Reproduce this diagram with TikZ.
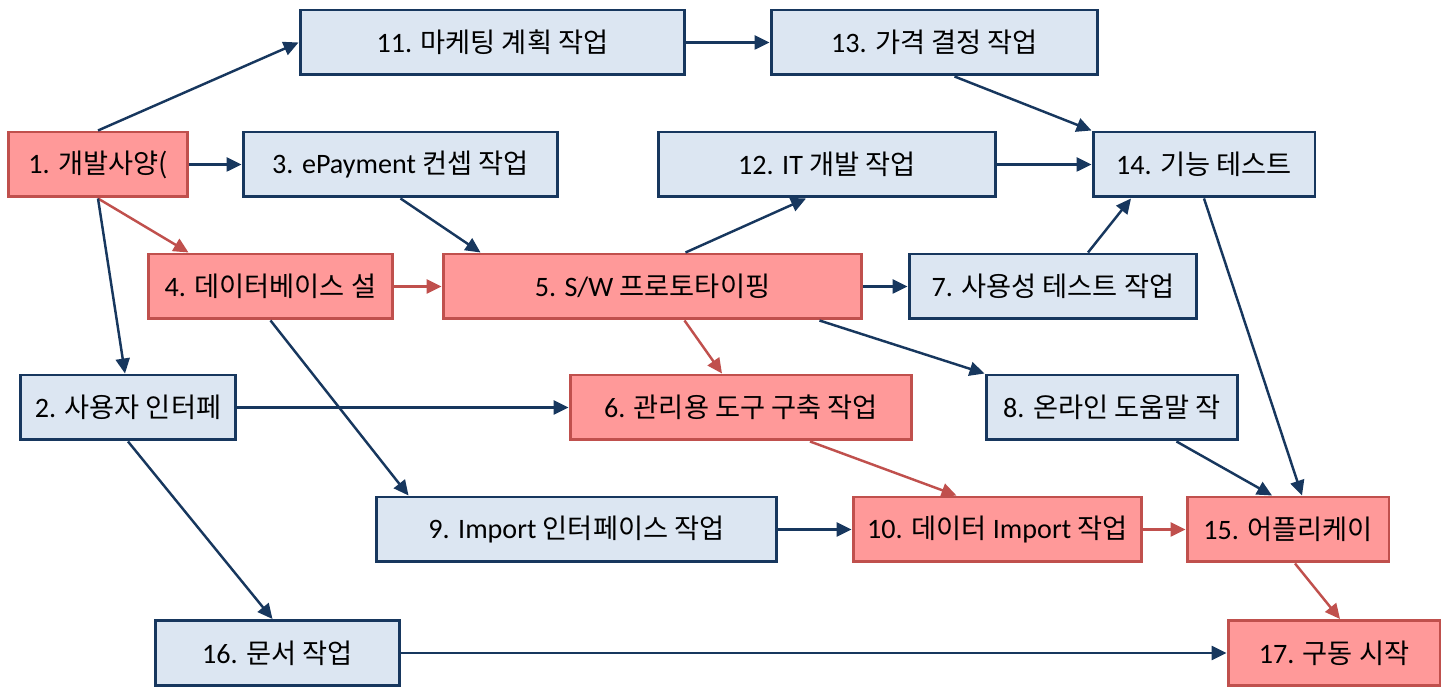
\documentclass[tikz,border=0pt]{standalone}
\usepackage{fontspec}
\setmainfont{Carlito}
\newfontfamily\kr[Scale=0.97]{Noto Sans CJK KR}
\usetikzlibrary{arrows.meta}
\definecolor{bfill}{HTML}{DCE6F2}
\definecolor{bline}{HTML}{17375E}
\definecolor{rfill}{HTML}{FF9999}
\definecolor{rline}{HTML}{C0504D}
\begin{document}
\begin{tikzpicture}[x=0.02cm,y=-0.02cm,
  box/.style={draw, line width=1.7pt, minimum height=1.3cm, inner sep=0pt, font=\fontsize{16}{19}\selectfont, text=black},
  bbox/.style={box, draw=bline, fill=bfill},
  rbox/.style={box, draw=rline, fill=rfill},
  barr/.style={draw=bline, line width=1.4pt, -{Triangle[length=0.3cm,width=0.28cm]}},
  rarr/.style={barr, draw=rline}]
\useasboundingbox (0,0) rectangle (1447,688);
% nodes
\node[bbox, minimum width=7.70cm] (n11) at (492.5,42.5) {11. {\kr 마케팅 계획 작업}};
\node[bbox, minimum width=6.54cm] (n13) at (934.5,42.5) {13. {\kr 가격 결정 작업}};
\node[rbox, minimum width=3.60cm] (n1) at (98,164.5) {1. {\kr 개발사양(}};
\node[bbox, minimum width=6.30cm] (n3) at (400.5,164.5) {3. ePayment {\kr 컨셉 작업}};
\node[bbox, minimum width=6.76cm] (n12) at (827,164.5) {12. IT {\kr 개발 작업}};
\node[bbox, minimum width=4.44cm] (n14) at (1204,164.5) {14. {\kr 기능 테스트}};
\node[rbox, minimum width=4.90cm] (n4) at (270.5,286.5) {4. {\kr 데이터베이스 설}};
\node[rbox, minimum width=8.38cm] (n5) at (652.5,286.5) {5. S/W {\kr 프로토타이핑}};
\node[bbox, minimum width=5.76cm] (n7) at (1053,286.5) {7. {\kr 사용성 테스트 작업}};
\node[bbox, minimum width=4.32cm] (n2) at (128,407.5) {2. {\kr 사용자 인터페}};
\node[rbox, minimum width=6.84cm] (n6) at (741,407.5) {6. {\kr 관리용 도구 구축 작업}};
\node[bbox, minimum width=5.04cm] (n8) at (1112,407.5) {8. {\kr 온라인 도움말 작}};
\node[bbox, minimum width=8.02cm] (n9) at (576.5,529.5) {9. Import {\kr 인터페이스 작업}};
\node[rbox, minimum width=5.78cm] (n10) at (997.5,529.5) {10. {\kr 데이터} Import {\kr 작업}};
\node[rbox, minimum width=4.04cm] (n15) at (1288,529.5) {15. {\kr 어플리케이}};
\node[bbox, minimum width=4.90cm] (n16) at (277.5,653) {16. {\kr 문서 작업}};
\node[rbox, minimum width=4.24cm] (n17) at (1334,653) {17. {\kr 구동 시작}};
% connectors
\draw[barr] (n1.north) -- (n11.west);
\draw[barr] (n1.east) -- (n3.west);
\draw[rarr] (n1.south) -- ([xshift=0.84cm]n4.north west);
\draw[barr] (n1.south) -- ([xshift=-0.06cm]n2.north);
\draw[barr] (n11.east) -- (n13.west);
\draw[barr] ([xshift=0.4cm]n13.south) -- (n14.north west);
\draw[barr] (n3.south) -- ([xshift=0.78cm]n5.north west);
\draw[rarr] (n4.east) -- (n5.west);
\draw[barr] (n4.south) -- ([xshift=0.68cm]n9.north west);
\draw[barr] ([xshift=0.66cm]n5.north) -- ([xshift=-0.42cm]n12.south);
\draw[barr] (n12.east) -- (n14.west);
\draw[barr] (n5.east) -- (n7.west);
\draw[barr] ([xshift=0.7cm]n7.north) -- ([xshift=-1.46cm]n14.south);
\draw[rarr] ([xshift=0.64cm]n5.south) -- ([xshift=-0.38cm]n6.north);
\draw[barr] ([xshift=-0.88cm]n5.south east) -- (n8.north west);
\draw[barr] (n2.east) -- (n6.west);
\draw[barr] (n2.south) -- ([xshift=-0.1cm]n16.north);
\draw[rarr] ([xshift=1.38cm]n6.south) -- ([xshift=-0.82cm]n10.north);
\draw[barr] (n9.east) -- (n10.west);
\draw[rarr] (n10.east) -- (n15.west);
\draw[barr] ([xshift=-1.26cm]n8.south east) -- ([xshift=-0.32cm]n15.north);
\draw[barr] (n14.south) -- ([xshift=0.28cm]n15.north);
\draw[rarr] ([xshift=0.14cm]n15.south) -- ([xshift=0.12cm]n17.north);
\draw[barr] (n16.east) -- (n17.west);
\end{tikzpicture}
\end{document}
